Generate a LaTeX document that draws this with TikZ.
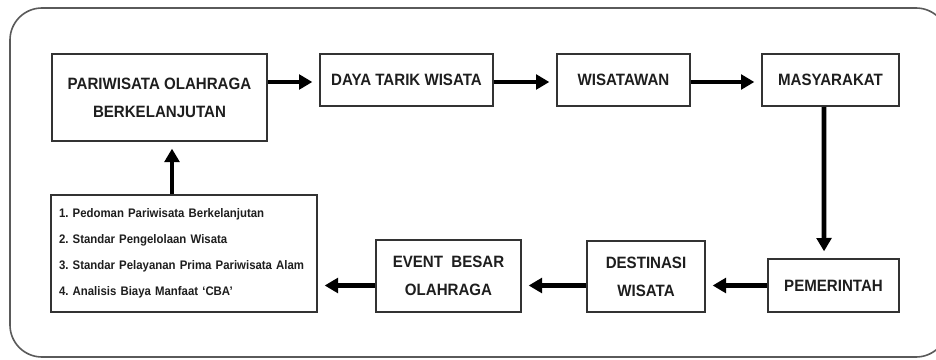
\documentclass[tikz,border=0pt]{standalone}
\usepackage{fontspec}
\setmainfont{Liberation Sans}[FakeStretch=0.92]
\usetikzlibrary{arrows.meta,calc}
\frenchspacing
\definecolor{edge}{HTML}{333333}
\definecolor{ink}{HTML}{1E1E1E}
\definecolor{frame}{HTML}{5A5A5A}
\tikzset{
  box/.style={draw=edge, line width=1.5pt, rectangle, inner sep=0pt, text=ink,
    align=center, font=\fontsize{12.3}{21}\selectfont\bfseries},
  flow/.style={draw=black, line width=3.6pt, -{Triangle[length=10pt,width=11pt]}, shorten >=5pt},
}
\begin{document}
\begin{tikzpicture}[x=0.75pt,y=-0.75pt]
\clip (0,0) rectangle (936,360);
\useasboundingbox (0,0) rectangle (936,360);
\fill[white] (0,0) rectangle (936,360);
\draw[frame, line width=1.2pt, rounded corners=24pt] (10,8) rectangle (948,357);

\node[box, minimum width=161.25pt, minimum height=65.25pt] (pos) at (159.5,97.5) {PARIWISATA OLAHRAGA\\BERKELANJUTAN};
\node[box, minimum width=129.75pt, minimum height=39pt] (daya) at (406.5,80) {DAYA TARIK WISATA};
\node[box, minimum width=99.75pt, minimum height=39pt] (wis) at (623.5,80) {WISATAWAN};
\node[box, minimum width=102.75pt, minimum height=39pt] (mas) at (830.5,80) {MASYARAKAT};
\node[box, minimum width=98.25pt, minimum height=39.75pt] (pem) at (833.5,285.5) {PEMERINTAH};
\node[box, minimum width=88.5pt, minimum height=53.25pt] (dest) at (646,276.5) {DESTINASI\\WISATA};
\node[box, minimum width=108.75pt, minimum height=54pt] (event) at (448.5,276) {EVENT\ \ BESAR\\OLAHRAGA};
\node[box, minimum width=199.5pt, minimum height=87.75pt, inner xsep=6pt, text width=187.5pt, align=left,
  font=\fontsize{9.3}{19.5}\selectfont\bfseries] (list) at (184,253.5)
  {1. Pedoman Pariwisata Berkelanjutan\\2. Standar Pengelolaan Wisata\\3. Standar Pelayanan Prima Pariwisata Alam\\4. Analisis Biaya Manfaat ‘CBA’};

\draw[flow] ([yshift=-1.5pt]pos.east |- daya.west) -- ([yshift=-1.5pt]daya.west);
\draw[flow] ([yshift=-1.5pt]daya.east) -- ([yshift=-1.5pt]wis.west);
\draw[flow] ([yshift=-1.5pt]wis.east) -- ([yshift=-1.5pt]mas.west);
\draw[flow] ([xshift=-4.9pt]mas.south) -- ([xshift=-7.1pt]pem.north);
\draw[flow] (pem.west) -- (dest.east |- pem.west);
\draw[flow] (dest.west |- pem.west) -- (event.east |- pem.west);
\draw[flow] (event.west |- pem.west) -- (list.east |- pem.west);
\draw[flow] ([xshift=-9pt]list.north) -- ([xshift=-9pt]list.north |- pos.south);
\end{tikzpicture}
\end{document}
